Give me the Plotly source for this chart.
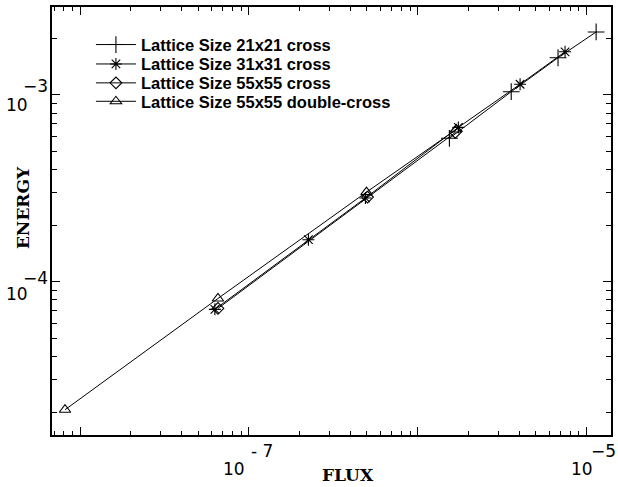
import plotly.graph_objects as go

# Flux / energy pairs for each lattice configuration
flux_21 = [1.54e-6, 3.58e-6, 6.78e-6, 1.14e-5]
energy_21 = [5.86e-4, 1.04e-3, 1.58e-3, 2.17e-3]

flux_31 = [6.28e-8, 2.25e-7, 4.90e-7, 1.74e-6, 4.04e-6, 7.46e-6]
energy_31 = [7.13e-5, 1.68e-4, 2.81e-4, 6.70e-4, 1.14e-3, 1.70e-3]

flux_55 = [6.55e-8, 5.04e-7, 1.67e-6]
energy_55 = [7.21e-5, 2.84e-4, 6.30e-4]

flux_55dc = [8.13e-9, 6.55e-8, 4.97e-7, 1.69e-6]
energy_55dc = [2.07e-5, 8.15e-5, 3.02e-4, 6.53e-4]

series_names = [
    "Lattice Size 21x21 cross",
    "Lattice Size 31x31 cross",
    "Lattice Size 55x55 cross",
    "Lattice Size 55x55 double-cross",
]

x_tick_exponents = [-7, -5]
y_tick_exponents = [-3, -4]

W, H = 618, 487
L, R, T, B = 52, 6, 5, 52
XR = [-8.167, -4.855]
YR = [-4.819, -2.530]

pw, ph = W - L - R, H - T - B


def px(xp):
    return (xp - L) / pw


def py(yp):
    return (H - B - yp) / ph


fig = go.Figure()

specs = [
    (flux_21, energy_21, "cross-thin-open", 12),
    (flux_31, energy_31, "asterisk-open", 10),
    (flux_55, energy_55, "diamond-open", 9),
    (flux_55dc, energy_55dc, "triangle-up-open", 10),
]
legend_ids = ["legend", "legend2", "legend3", "legend4"]
legend_rows = [43, 62.5, 81.5, 100]

for name, (fx, ey, sym, sz), lid in zip(series_names, specs, legend_ids):
    fig.add_trace(go.Scatter(
        x=fx, y=ey, name=name, mode="lines+markers", legend=lid,
        line=dict(color="black", width=1),
        marker=dict(symbol=sym, size=sz, color="black",
                    line=dict(color="black", width=1.1)),
    ))

axis_common = dict(
    type="log", showgrid=False, zeroline=False,
    showline=True, linecolor="black", linewidth=1.5, mirror="allticks",
    ticks="inside", ticklen=8, tickcolor="black", tickwidth=1,
    showticklabels=False,
)


def minor_vals(lo, hi):
    vals = []
    for e in range(lo, hi):
        for k in range(2, 10):
            vals.append(k * 10.0 ** e)
    return vals


fig.update_xaxes(range=XR, tickvals=[10.0 ** e for e in range(-9, -3)],
                 minor=dict(ticks="inside", ticklen=4, tickcolor="black",
                            tickvals=minor_vals(-9, -4), showgrid=False),
                 **axis_common)
fig.update_yaxes(range=YR, tickvals=[10.0 ** e for e in range(-6, -1)],
                 minor=dict(ticks="inside", ticklen=5, tickcolor="black",
                            tickvals=minor_vals(-6, -2), showgrid=False),
                 **axis_common)

tick_font = dict(family="DejaVu Sans", size=17, color="black")
annotations = []


def label(xp, yp, text, font, **kw):
    annotations.append(dict(x=px(xp), y=py(yp), xref="paper", yref="paper",
                            xanchor="center", yanchor="middle",
                            text=text, showarrow=False, font=font, **kw))


for e in x_tick_exponents:
    xpix = L + (e - XR[0]) / (XR[1] - XR[0]) * pw
    if e == -7:
        label(xpix - 15, 469, "10", tick_font)
        label(xpix + 13, 451, "- 7", tick_font)
    else:
        label(xpix - 5, 469, "10", tick_font)
        label(xpix + 17.5, 451, str(e).replace("-", "\u2212"), tick_font)

for e, d10, dexp in zip(y_tick_exponents, [10, 12], [-9, -4]):
    ypix = T + (YR[1] - e) / (YR[1] - YR[0]) * ph
    label(16.5, ypix + d10, "10", tick_font)
    label(35.5, ypix + dexp, str(e).replace("-", "\u2212"), tick_font)

title_font = dict(family="DejaVu Serif, serif", size=17, color="black", weight="bold")
label(349, 475, "FLUX", title_font)
label(23, 207, "ENERGY", title_font, textangle=-90)

legend_style = dict(
    xanchor="left", yanchor="middle",
    bgcolor="rgba(0,0,0,0)", borderwidth=0,
    font=dict(family="Liberation Sans", size=16.5, color="black", weight="bold"),
    itemwidth=40, tracegroupgap=0,
)
layout_legends = {}
for lid, row in zip(legend_ids, legend_rows):
    layout_legends[lid] = dict(x=px(91), y=py(row), **legend_style)

fig.update_layout(
    width=W, height=H,
    margin=dict(l=L, r=R, t=T, b=B),
    paper_bgcolor="white", plot_bgcolor="white",
    annotations=annotations,
    showlegend=True,
    **layout_legends,
)

fig.write_html("out.html")
